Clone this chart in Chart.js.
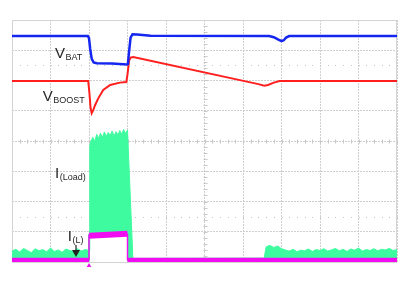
<!DOCTYPE html>
<html lang="en">
<head>
    <meta charset="UTF-8">
    <title>Scope capture - load step</title>
    <script src="https://cdn.jsdelivr.net/npm/chart.js"></script>
    <style>
        html, body { margin: 0; padding: 0; background: #fff; }
        #scope { display: block; }
    </style>
</head>
<body>
    <canvas id="scope" width="406" height="287"></canvas>

    <script>
        // time axis in divisions (0..10), amplitude in divisions (0..8)

        // V(BAT) - blue trace
        const vbatT = [0, 1.97, 2.0, 2.03, 2.07, 2.12, 2.2, 2.6, 2.98, 3.01, 3.04, 3.08, 3.13, 3.25, 3.6, 6.68, 6.8, 6.92, 7.0, 7.06, 7.12, 7.2, 10];
        const vbatV = [7.47, 7.47, 7.4, 7.05, 6.72, 6.6, 6.57, 6.56, 6.53, 6.55, 6.95, 7.42, 7.53, 7.52, 7.48, 7.47, 7.43, 7.35, 7.3, 7.33, 7.42, 7.47, 7.47];

        // V(BOOST) - red trace
        const vboostT = [0, 1.98, 2.01, 2.04, 2.07, 2.11, 2.16, 2.24, 2.37, 2.55, 2.8, 2.97, 3.0, 3.04, 3.08, 3.15, 6.4, 6.55, 6.65, 6.8, 6.95, 10];
        const vboostV = [5.98, 5.98, 5.6, 5.1, 4.92, 5.02, 5.19, 5.41, 5.69, 5.85, 5.93, 5.95, 6.2, 6.65, 6.76, 6.78, 5.88, 5.83, 5.85, 5.93, 5.98, 5.98];

        // I(Load) - green, top of the noise band
        const loadTopT = [0, 0.1, 0.2, 0.3, 0.4, 0.5, 0.6, 0.7, 0.8, 0.9, 1.0, 1.1, 1.2, 1.3, 1.4, 1.5, 1.6, 1.7, 1.8, 1.9, 2.0,
                          2.02, 2.05, 2.1, 2.15, 2.2, 2.25, 2.3, 2.35, 2.4, 2.45, 2.5, 2.55, 2.6, 2.65, 2.7, 2.75, 2.8, 2.85, 2.9, 2.95, 3.0,
                          3.14, 6.55,
                          6.6, 6.7, 6.8, 6.9, 7.0, 7.1, 7.2, 7.3, 7.4, 7.5, 7.6, 7.7, 7.8, 7.9, 8.0, 8.1, 8.2, 8.3, 8.4, 8.5, 8.6, 8.7, 8.8, 8.9, 9.0, 9.1, 9.2, 9.3, 9.4, 9.5, 9.6, 9.7, 9.8, 9.9, 10];
        const loadTopV = [0.36, 0.42, 0.33, 0.45, 0.38, 0.31, 0.44, 0.37, 0.41, 0.34, 0.46, 0.35, 0.40, 0.32, 0.43, 0.38, 0.35, 0.44, 0.36, 0.41, 0.38,
                          3.85, 4.0, 4.12, 3.98, 4.22, 4.08, 4.26, 4.12, 4.30, 4.15, 4.28, 4.18, 4.33, 4.16, 4.31, 4.2, 4.35, 4.22, 4.38, 4.25, 4.36,
                          0.12, 0.13,
                          0.50, 0.55, 0.48, 0.53, 0.44, 0.40, 0.36, 0.42, 0.34, 0.39, 0.37, 0.43, 0.35, 0.41, 0.38, 0.44, 0.36, 0.40, 0.45, 0.37, 0.42, 0.35, 0.43, 0.39, 0.46, 0.36, 0.41, 0.38, 0.44, 0.37, 0.42, 0.40, 0.45, 0.38, 0.41];
        // bottom of the green band, walked right to left
        const loadLowT = [10, 3.0, 3.0, 2.0, 2.0, 0];
        const loadLowV = [0.04, 0.04, 0.92, 0.92, 0.04, 0.04];

        // I(L) - magenta, thick trace pieces and thin edges
        const ilPreT = [0, 2.0];
        const ilPreV = [0.06, 0.06];
        const ilPulseT = [2.0, 2.5, 3.0];
        const ilPulseV = [0.87, 0.9, 0.93];
        const ilPostT = [3.0, 10];
        const ilPostV = [0.06, 0.06];
        const ilEdgeT = [2.0, 2.0, 3.0, 3.0];
        const ilEdgeV = [0.06, 0.88, 0.92, 0.06];

        // markers: trigger point and the I(L) arrow
        const trigT = [2.0];
        const trigV = [-0.12];
        const arrowT = [1.662, 1.662];
        const arrowV = [0.56, 0.4];
        const arrowHeadT = [1.662];
        const arrowHeadV = [0.317];

        // trace labels: [main, subscript, x div, y div of baseline]
        const labels = [
            ['V', 'BAT', 1.117, 6.76],
            ['V', 'BOOST', 0.797, 5.32],
            ['I', '(Load)', 1.117, 2.78],
            ['I', '(L)', 1.45, 0.69]
        ];

        function pts(xs, ys) {
            return xs.map((x, i) => ({ x: x, y: ys[i] }));
        }

        const GREEN = '#3ffb9f';
        const MAGENTA = '#f20cf2';

        const scopeDeco = {
            id: 'scopeDeco',
            beforeDatasetsDraw(chart) {
                const { ctx, chartArea: a, scales: { x, y } } = chart;
                ctx.save();
                // dotted cursor lines
                ctx.fillStyle = '#c4c4c4';
                [1.5, 6.5].forEach(lv => {
                    const py = Math.round(y.getPixelForValue(lv));
                    for (let t = 0.2; t < 10; t += 0.2) {
                        ctx.fillRect(Math.round(x.getPixelForValue(t)), py, 1, 1);
                    }
                });
                // center crosshair minor ticks
                ctx.strokeStyle = '#c8c8c8';
                ctx.lineWidth = 1;
                const cx = Math.round(x.getPixelForValue(5)) + 0.5;
                const cy = Math.round(y.getPixelForValue(4)) + 0.5;
                ctx.beginPath();
                for (let t = 0.2; t < 10; t += 0.2) {
                    const px = Math.round(x.getPixelForValue(t)) + 0.5;
                    ctx.moveTo(px, cy - 2); ctx.lineTo(px, cy + 2);
                }
                for (let v = 0.2; v < 8; v += 0.2) {
                    const py = Math.round(y.getPixelForValue(v)) + 0.5;
                    ctx.moveTo(cx - 2, py); ctx.lineTo(cx + 2, py);
                }
                ctx.stroke();
                // frame
                ctx.strokeStyle = '#d4d4d4';
                ctx.strokeRect(Math.round(a.left) + 0.5, Math.round(a.top) + 0.5, Math.round(a.width) - 1, Math.round(a.height));
                ctx.restore();
            },
            afterDatasetsDraw(chart) {
                const { ctx, scales: { x, y } } = chart;
                ctx.save();
                ctx.fillStyle = '#262626';
                ctx.textBaseline = 'alphabetic';
                labels.forEach(([main, sub, lx, ly]) => {
                    const px = x.getPixelForValue(lx);
                    const py = y.getPixelForValue(ly);
                    ctx.font = '15px "Liberation Sans", Arial, sans-serif';
                    ctx.fillText(main, px, py);
                    const w = ctx.measureText(main).width;
                    ctx.font = '9px "Liberation Sans", Arial, sans-serif';
                    ctx.fillText(sub, px + w + 0.5, py + 2);
                });
                ctx.restore();
            }
        };

        const lineDefaults = { showLine: true, pointRadius: 0, tension: 0, fill: false };

        // first dataset ends up on top, so the list runs from top layer to bottom layer
        const chart = new Chart(document.getElementById('scope'), {
            type: 'scatter',
            data: {
                datasets: [
                    {
                        label: 'trigger',
                        data: pts(trigT, trigV),
                        pointStyle: 'triangle',
                        pointRadius: 2.6,
                        backgroundColor: MAGENTA,
                        borderColor: MAGENTA,
                        borderWidth: 0,
                        clip: false
                    },
                    {
                        label: 'arrow head',
                        data: pts(arrowHeadT, arrowHeadV),
                        pointStyle: 'triangle',
                        rotation: 180,
                        pointRadius: 4.6,
                        backgroundColor: '#222',
                        borderColor: '#222',
                        borderWidth: 0
                    },
                    Object.assign({}, lineDefaults, {
                        label: 'arrow',
                        data: pts(arrowT, arrowV),
                        borderColor: '#222',
                        borderWidth: 1.2
                    }),
                    Object.assign({}, lineDefaults, {
                        label: 'VBAT',
                        data: pts(vbatT, vbatV),
                        borderColor: '#1426f0',
                        borderWidth: 2.5
                    }),
                    Object.assign({}, lineDefaults, {
                        label: 'VBOOST',
                        data: pts(vboostT, vboostV),
                        borderColor: '#ff1f1f',
                        borderWidth: 2
                    }),
                    Object.assign({}, lineDefaults, {
                        label: 'I(L) post',
                        data: pts(ilPostT, ilPostV),
                        borderColor: MAGENTA,
                        borderWidth: 5
                    }),
                    Object.assign({}, lineDefaults, {
                        label: 'I(L) pulse',
                        data: pts(ilPulseT, ilPulseV),
                        borderColor: MAGENTA,
                        borderWidth: 6
                    }),
                    Object.assign({}, lineDefaults, {
                        label: 'I(L) pre',
                        data: pts(ilPreT, ilPreV),
                        borderColor: MAGENTA,
                        borderWidth: 5
                    }),
                    Object.assign({}, lineDefaults, {
                        label: 'I(L) edges',
                        data: pts(ilEdgeT, ilEdgeV),
                        borderColor: MAGENTA,
                        borderWidth: 1.5
                    }),
                    Object.assign({}, lineDefaults, {
                        label: 'I(Load)',
                        data: pts(loadTopT, loadTopV).concat(pts(loadLowT, loadLowV)),
                        borderColor: GREEN,
                        backgroundColor: GREEN,
                        borderWidth: 1,
                        fill: 'shape'
                    })
                ]
            },
            options: {
                responsive: false,
                animation: false,
                devicePixelRatio: 1,
                layout: { padding: { left: 12, top: 20, right: 9, bottom: 25 } },
                plugins: { legend: { display: false }, tooltip: { enabled: false } },
                scales: {
                    x: {
                        type: 'linear', min: 0, max: 10,
                        ticks: { display: false, stepSize: 1 },
                        grid: { color: '#cfcfcf', drawTicks: false },
                        border: { display: false, dash: [2, 1] }
                    },
                    y: {
                        type: 'linear', min: 0, max: 8,
                        ticks: { display: false, stepSize: 1 },
                        grid: { color: '#cfcfcf', drawTicks: false },
                        border: { display: false, dash: [2, 1] }
                    }
                }
            },
            plugins: [scopeDeco]
        });
    </script>
</body>
</html>
